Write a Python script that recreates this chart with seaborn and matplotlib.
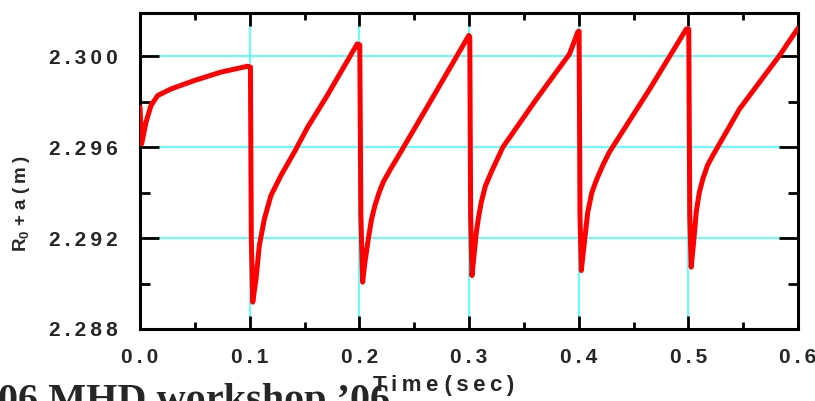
import numpy as np
import pandas as pd
import seaborn as sns
import matplotlib.pyplot as plt
from matplotlib.ticker import MultipleLocator, FixedLocator

# R0 + a vs time
time_sec = [
    0.0, 0.0015, 0.0055, 0.0100, 0.0161, 0.0283, 0.0496, 0.0738, 0.0982, 0.1007,
    0.1015, 0.1028, 0.1058, 0.1088, 0.1134, 0.1194, 0.1285, 0.1407, 0.1529, 0.1702, 0.1981, 0.2004,
    0.2014, 0.2030, 0.2050, 0.2082, 0.2110, 0.2142, 0.2180, 0.2218, 0.2280, 0.2340, 0.2613, 0.2998,
    0.3007, 0.3015, 0.3027, 0.3045, 0.3067, 0.3090, 0.3112, 0.3150, 0.3203, 0.3309, 0.3613, 0.3917, 0.3993,
    0.4004, 0.4012, 0.4024, 0.4045, 0.4083, 0.4120, 0.4165, 0.4220, 0.4280, 0.4647, 0.4982,
    0.5004, 0.5013, 0.5026, 0.5048, 0.5072, 0.5100, 0.5132, 0.5175, 0.5223, 0.5467, 0.5831, 0.6000,
]
r0_plus_a = [
    2.29776, 2.29614, 2.29710, 2.29783, 2.29827, 2.29856, 2.29893, 2.29930, 2.29956, 2.29952,
    2.29200, 2.28918, 2.29020, 2.29167, 2.29284, 2.29387, 2.29475, 2.29578, 2.29688, 2.29823, 2.30054, 2.30050,
    2.29300, 2.29006, 2.29090, 2.29196, 2.29280, 2.29343, 2.29400, 2.29446, 2.29500, 2.29548, 2.29772, 2.30091,
    2.30085, 2.29300, 2.29035, 2.29120, 2.29226, 2.29300, 2.29358, 2.29430, 2.29490, 2.29600, 2.29810, 2.30010, 2.30108,
    2.30110, 2.29300, 2.29057, 2.29150, 2.29314, 2.29400, 2.29459, 2.29520, 2.29578, 2.29855, 2.30120,
    2.30118, 2.29300, 2.29072, 2.29180, 2.29314, 2.29400, 2.29460, 2.29520, 2.29563, 2.29768, 2.30003, 2.30123,
]

x_ticks = [0.0, 0.1, 0.2, 0.3, 0.4, 0.5, 0.6]
y_ticks = [2.288, 2.292, 2.296, 2.300]

TS = "\u2009"  # thin space for the letter-spaced look


def spaced(s):
    return TS.join(s)


df = pd.DataFrame({"t": time_sec, "r": r0_plus_a})

sns.set_style("ticks")
plt.rcParams["font.family"] = ["Liberation Sans", "DejaVu Sans"]
plt.rcParams["mathtext.fontset"] = "custom"
plt.rcParams["mathtext.rm"] = "Liberation Sans"

fig = plt.figure(figsize=(8.15, 4.01), dpi=100)
ax = fig.add_axes([140 / 815, 1 - 329 / 401, 658 / 815, 316 / 401])

sns.lineplot(data=df, x="t", y="r", estimator=None, color="#ff0000",
             linewidth=3.6, ax=ax, zorder=3)

ax.set_xlim(0.0, 0.6)
ax.set_ylim(2.288, 2.3019)

ax.xaxis.set_major_locator(FixedLocator(x_ticks))
ax.xaxis.set_minor_locator(MultipleLocator(0.05))
ax.yaxis.set_major_locator(FixedLocator(y_ticks))
ax.yaxis.set_minor_locator(MultipleLocator(0.002))

ax.set_xticklabels([spaced(f"{v:.1f}") for v in x_ticks])
ax.set_yticklabels([spaced(f"{v:.3f}") for v in y_ticks])

ax.grid(True, which="major", color="#33ffff", linewidth=1.1, zorder=0)
ax.set_axisbelow(True)

for s in ax.spines.values():
    s.set_linewidth(2.2)
    s.set_color("black")

ax.tick_params(axis="both", which="both", direction="in", top=True, right=True,
               width=2.0, color="black")
ax.tick_params(axis="x", which="major", length=9.5, labelsize=15, pad=14)
ax.tick_params(axis="x", which="minor", length=5)
ax.tick_params(axis="y", which="major", length=14, labelsize=15, pad=16)
ax.tick_params(axis="y", which="minor", length=7)
for lab in ax.get_xticklabels() + ax.get_yticklabels():
    lab.set_fontweight("bold")

ax.set_xlabel("")
ax.set_ylabel("")

fig.text(444 / 815, 1 - 385 / 401, spaced("Time") + " " + spaced("(sec)"),
         ha="center", va="center", fontsize=16, fontweight="bold")
fig.text(22 / 815, 1 - 204 / 401,
         "R" + r"$_\mathregular{0}$" + " + " + spaced("a") + " " + spaced("(m)"),
         rotation=90, ha="center", va="center", fontsize=13.5, fontweight="bold")

# banner text cut by the lower edge of the image
fig.text(-2 / 815, 1 - 411 / 401, "06 MHD workshop \u201906",
         ha="left", va="baseline", fontsize=29, fontweight="bold",
         family=["Liberation Serif", "DejaVu Serif"])

fig.savefig("out.png", dpi=100)
